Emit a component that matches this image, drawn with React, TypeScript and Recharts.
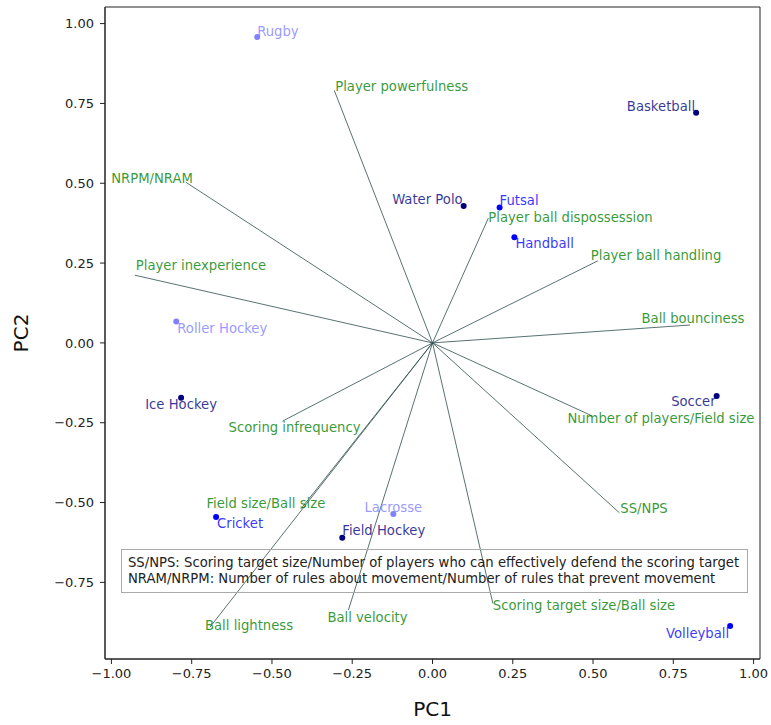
import React from "react";
import {
  ReferenceArea,
  ReferenceLine,
  Scatter,
  ScatterChart,
  XAxis,
  YAxis,
} from "recharts";

// sports projected on the first two components
const sportNames = [
  "Rugby",
  "Roller Hockey",
  "Basketball",
  "Water Polo",
  "Futsal",
  "Handball",
  "Ice Hockey",
  "Cricket",
  "Lacrosse",
  "Field Hockey",
  "Soccer",
  "Volleyball",
];
const sportPC1 = [-0.546, -0.798, 0.821, 0.097, 0.209, 0.255, -0.783, -0.674, -0.122, -0.281, 0.885, 0.927];
const sportPC2 = [0.958, 0.067, 0.721, 0.429, 0.424, 0.331, -0.172, -0.545, -0.536, -0.61, -0.166, -0.887];
const sportGroup = ["light", "light", "dark", "dark", "mid", "mid", "dark", "mid", "light", "dark", "dark", "mid"];

// feature loadings
const featureNames = [
  "Player powerfulness",
  "NRPM/NRAM",
  "Player inexperience",
  "Player ball dispossession",
  "Player ball handling",
  "Ball bounciness",
  "Scoring infrequency",
  "Field size/Ball size",
  "Ball lightness",
  "Ball velocity",
  "Scoring target size/Ball size",
  "Number of players/Field size",
  "SS/NPS",
];
const featurePC1 = [-0.306, -0.768, -0.927, 0.174, 0.515, 0.802, -0.467, -0.41, -0.693, -0.262, 0.188, 0.498, 0.582];
const featurePC2 = [0.791, 0.503, 0.212, 0.391, 0.257, 0.056, -0.245, -0.52, -0.89, -0.837, -0.816, -0.229, -0.532];

const xTicks = [-1, -0.75, -0.5, -0.25, 0, 0.25, 0.5, 0.75, 1];
const yTicks = [-0.75, -0.5, -0.25, 0, 0.25, 0.5, 0.75, 1];

const noteLines = [
  "SS/NPS: Scoring target size/Number of players who can effectively defend the scoring target",
  "NRAM/NRPM: Number of rules about movement/Number of rules that prevent movement",
];

const FONT = "'DejaVu Sans', sans-serif";
const LABEL_SIZE = 13.2;
const groupColor: Record<string, string> = {
  dark: "#000080",
  mid: "#0000ff",
  light: "#8080ff",
};

// label placement (anchor + pixel offset from the mark)
type Place = { a: "start" | "middle" | "end"; dx: number; dy: number };
const sportPlace: Record<string, Place> = {
  Rugby: { a: "start", dx: 0, dy: -6 },
  "Roller Hockey": { a: "start", dx: 1, dy: 7 },
  Basketball: { a: "end", dx: -1, dy: -6 },
  "Water Polo": { a: "end", dx: -1, dy: -6 },
  Futsal: { a: "start", dx: 0, dy: -7 },
  Handball: { a: "start", dx: 1, dy: 6 },
  "Ice Hockey": { a: "middle", dx: 0, dy: 7 },
  Cricket: { a: "start", dx: 1, dy: 7 },
  Lacrosse: { a: "middle", dx: 0, dy: -7 },
  "Field Hockey": { a: "start", dx: 0, dy: -7 },
  Soccer: { a: "end", dx: -1, dy: 6 },
  Volleyball: { a: "end", dx: -1, dy: 7 },
};
const featurePlace: Record<string, Place> = {
  "Player powerfulness": { a: "start", dx: 1, dy: -4 },
  "NRPM/NRAM": { a: "end", dx: 7, dy: -4 },
  "Player inexperience": { a: "start", dx: 1, dy: -10 },
  "Player ball dispossession": { a: "start", dx: 0, dy: -1 },
  "Player ball handling": { a: "start", dx: -7, dy: -5 },
  "Ball bounciness": { a: "middle", dx: 3, dy: -7 },
  "Scoring infrequency": { a: "middle", dx: 12, dy: 6 },
  "Field size/Ball size": { a: "middle", dx: -35, dy: -5 },
  "Ball lightness": { a: "start", dx: -5, dy: -2 },
  "Ball velocity": { a: "start", dx: -21, dy: 7 },
  "Scoring target size/Ball size": { a: "start", dx: 0, dy: 2 },
  "Number of players/Field size": { a: "start", dx: -25, dy: 2 },
  "SS/NPS": { a: "start", dx: 1, dy: -4 },
};

const sports = sportNames.map((name, i) => ({
  name,
  x: sportPC1[i],
  y: sportPC2[i],
  group: sportGroup[i],
}));
const features = featureNames.map((name, i) => ({
  name,
  x: featurePC1[i],
  y: featurePC2[i],
}));
const groups = ["dark", "mid", "light"];

const fmt = (v: number) => v.toFixed(2).replace("-", "\u2212");

function SportDot(props: any) {
  const { cx, cy, payload } = props;
  const p = sportPlace[payload.name];
  const c = groupColor[payload.group];
  return (
    <g>
      <circle cx={cx} cy={cy} r={3} fill={c} />
      <text
        x={cx + p.dx}
        y={cy + p.dy}
        textAnchor={p.a}
        dominantBaseline="central"
        fill={c}
        fillOpacity={0.8}
        fontSize={LABEL_SIZE}
        fontFamily={FONT}
      >
        {payload.name}
      </text>
    </g>
  );
}

function FeatureLabel(props: any) {
  const { cx, cy, payload } = props;
  const p = featurePlace[payload.name];
  return (
    <text
      x={cx + p.dx}
      y={cy + p.dy}
      textAnchor={p.a}
      dominantBaseline="central"
      fill="#008000"
      fillOpacity={0.8}
      fontSize={LABEL_SIZE}
      fontFamily={FONT}
    >
      {payload.name}
    </text>
  );
}

export default function App() {
  const tick = { fontSize: 13, fill: "#222", fontFamily: FONT };
  return (
    <div style={{ position: "relative", width: 771, height: 725 }}>
      <style>{"body{margin:0}"}</style>
      <ScatterChart
        width={771}
        height={725}
        margin={{ top: 7, right: 11, left: 0, bottom: 0 }}
      >
        <XAxis
          type="number"
          dataKey="x"
          domain={[-1.02, 1.02]}
          allowDataOverflow
          ticks={xTicks}
          tickFormatter={fmt}
          tick={tick}
          tickSize={5}
          tickMargin={5}
          height={66}
          stroke="#222"
          label={(lp: any) => {
            const vb = lp.viewBox;
            return (
              <text
                x={vb.x + vb.width / 2}
                y={709}
                textAnchor="middle"
                dominantBaseline="central"
                fontSize={20}
                fontFamily={FONT}
                fill="#111"
              >
                PC1
              </text>
            );
          }}
        />
        <YAxis
          type="number"
          dataKey="y"
          domain={[-0.99, 1.052]}
          allowDataOverflow
          ticks={yTicks}
          tickFormatter={fmt}
          tick={tick}
          tickSize={5}
          tickMargin={6}
          width={105}
          stroke="#222"
          label={(lp: any) => {
            const vb = lp.viewBox;
            const cy = vb.y + vb.height / 2;
            return (
              <text
                x={21}
                y={cy}
                transform={`rotate(-90 21 ${cy})`}
                textAnchor="middle"
                dominantBaseline="central"
                fontSize={20}
                fontFamily={FONT}
                fill="#111"
              >
                PC2
              </text>
            );
          }}
        />
        <ReferenceArea
          x1={-1.02}
          x2={1.02}
          y1={-0.99}
          y2={1.052}
          fill="none"
          stroke="#222"
          strokeWidth={1}
          ifOverflow="extendDomain"
        />
        {features.map((f) => (
          <ReferenceLine
            key={f.name}
            segment={[
              { x: 0, y: 0 },
              { x: f.x, y: f.y },
            ]}
            stroke="#2f4f4f"
            strokeOpacity={0.8}
            strokeWidth={1}
          />
        ))}
        <Scatter
          data={features}
          shape={<FeatureLabel />}
          isAnimationActive={false}
        />
        {groups.map((g) => (
          <Scatter
            key={g}
            data={sports.filter((s) => s.group === g)}
            shape={<SportDot />}
            isAnimationActive={false}
          />
        ))}
      </ScatterChart>
      <div
        style={{
          position: "absolute",
          left: 121,
          top: 549,
          width: 627,
          height: 44,
          boxSizing: "border-box",
          border: "1.5px solid #aaa",
          fontFamily: FONT,
          fontSize: LABEL_SIZE,
          lineHeight: "16px",
          color: "#222",
          padding: "5px 0 0 6px",
          whiteSpace: "nowrap",
          pointerEvents: "none",
        }}
      >
        {noteLines.map((l) => (
          <div key={l}>{l}</div>
        ))}
      </div>
    </div>
  );
}
